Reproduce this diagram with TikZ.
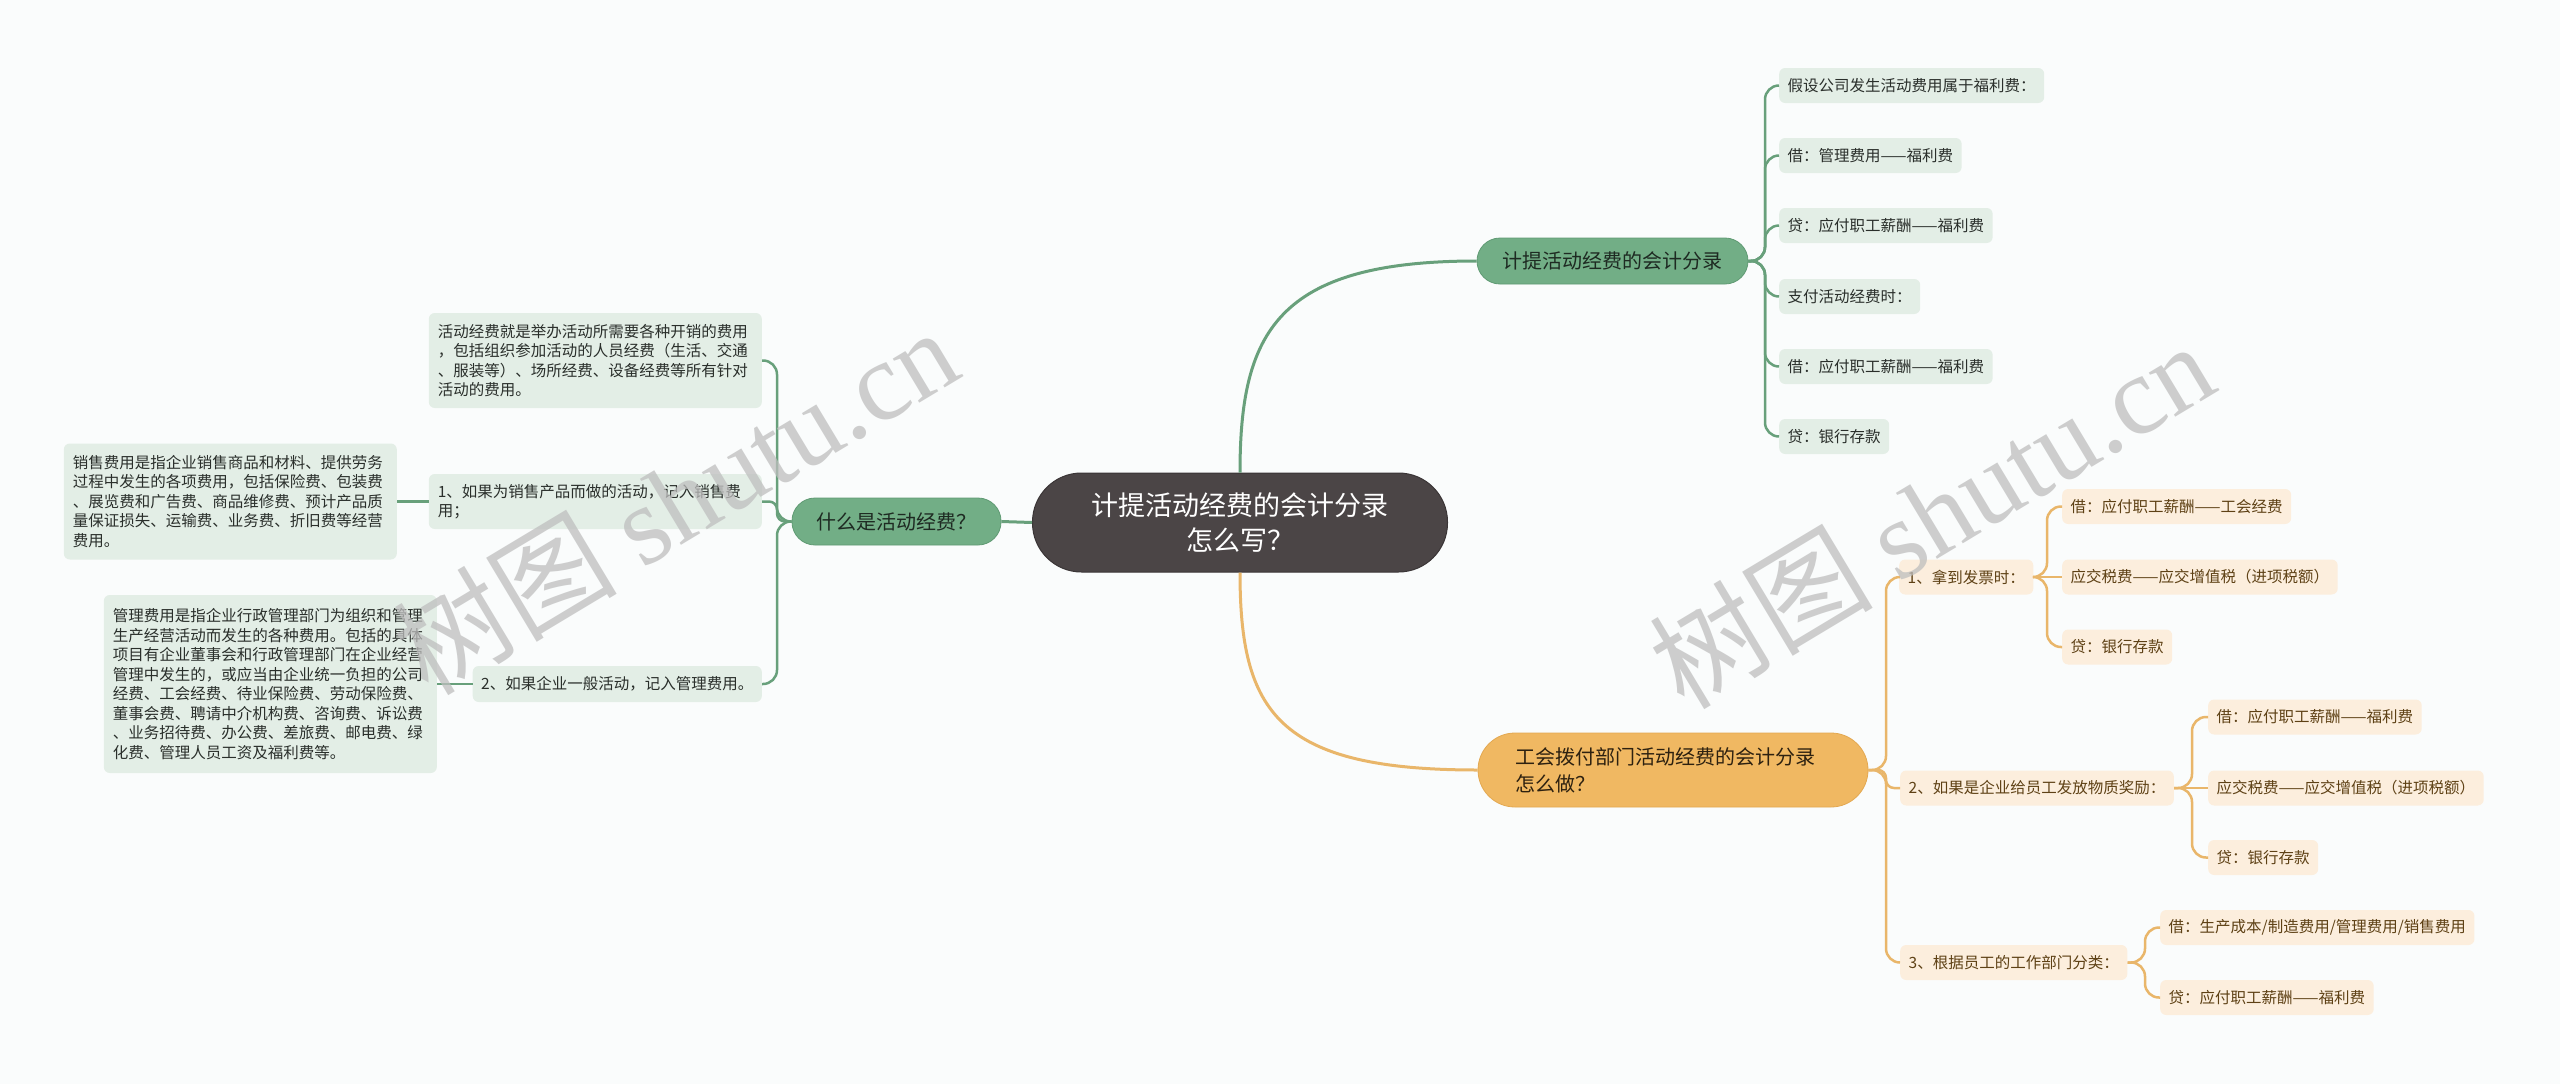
\documentclass[tikz,border=0pt]{standalone}
\usepackage{fontspec}
\setmainfont{Noto Sans CJK SC}
\newfontfamily\wmserif{Liberation Serif}
\definecolor{bgc}{HTML}{FAFCFC}
\definecolor{rootc}{HTML}{4B4546}
\definecolor{rootd}{HTML}{3A3536}
\definecolor{gmainc}{HTML}{72AE86}
\definecolor{gmaind}{HTML}{5F9A73}
\definecolor{gline}{HTML}{68A07B}
\definecolor{gleafc}{HTML}{E3EEE6}
\definecolor{gtext}{HTML}{1E2A22}
\definecolor{omainc}{HTML}{F0B862}
\definecolor{omaind}{HTML}{E3A851}
\definecolor{oline}{HTML}{E9B66A}
\definecolor{oleafc}{HTML}{FCEEDD}
\definecolor{otext}{HTML}{5E4115}
\definecolor{omtext}{HTML}{2D2110}
\definecolor{leaftext}{HTML}{2A2F2B}
\definecolor{wmc}{HTML}{BEBEBE}
\tikzset{
  rootbox/.style={fill=rootc, draw=rootd, line width=1pt, rounded corners=49pt,
    minimum width=415pt, minimum height=99pt, text=white, align=center, inner sep=0pt,
    font=\fontsize{27}{35}\selectfont},
  gmainbox/.style={fill=gmainc, draw=gmaind, line width=0.8pt, rounded corners=23pt,
    text=gtext, inner sep=0pt, font=\fontsize{20}{26}\selectfont},
  omainbox/.style={fill=omainc, draw=omaind, line width=0.8pt, rounded corners=37pt,
    text=omtext, inner sep=0pt, font=\fontsize{20}{27}\selectfont},
  gleaf/.style={fill=gleafc, rounded corners=6pt, text=leaftext, align=left,
    inner xsep=8.5pt, inner ysep=0pt, minimum height=35pt,
    font=\fontsize{15.5}{19.5}\selectfont},
  gpara/.style={gleaf, text width=315pt, inner xsep=9pt},
  oleaf/.style={fill=oleafc, rounded corners=6pt, text=otext, align=left,
    inner xsep=8.5pt, inner ysep=0pt, minimum height=35pt,
    font=\fontsize{15.5}{19.5}\selectfont},
  gconn/.style={draw=gline, line width=2.5pt, rounded corners=14pt},
  oconn/.style={draw=oline, line width=2.5pt, rounded corners=14pt},
  wmark/.style={text=wmc, opacity=0.75, rotate=31, inner sep=0pt,
    font=\fontsize{112}{112}\selectfont}
}
\begin{document}
\begin{tikzpicture}[x=1pt,y=-1pt]
\useasboundingbox (0,0) rectangle (2560,1084);
\fill[bgc] (0,0) rectangle (2560,1084);

% main nodes
\node[rootbox] (root) at (1240,522.5) {计提活动经费的会计分录\\怎么写？};
\node[gmainbox, minimum width=209pt, minimum height=47pt] (what) at (896.5,521.5) {什么是活动经费？};
\node[gmainbox, minimum width=271pt, minimum height=46pt] (jt) at (1612.5,261) {计提活动经费的会计分录};
\node[omainbox, minimum width=390pt, minimum height=74pt, text width=316pt, align=left] (gh) at (1673,770) {工会拨付部门活动经费的会计分录\\怎么做？};

% left branch
\node[gpara, anchor=east, minimum height=95pt] (a) at (762,360.5) {活动经费就是举办活动所需要各种开销的费用\\，包括组织参加活动的人员经费（生活、交通\\、服装等）、场所经费、设备经费等所有针对\\活动的费用。};
\node[gpara, anchor=east, minimum height=55pt] (b) at (762,501.5) {1、如果为销售产品而做的活动，记入销售费\\用；};
\node[gpara, anchor=east, minimum height=116pt] (c) at (397,501.5) {销售费用是指企业销售商品和材料、提供劳务\\过程中发生的各项费用，包括保险费、包装费\\、展览费和广告费、商品维修费、预计产品质\\量保证损失、运输费、业务费、折旧费等经营\\费用。};
\node[gleaf, anchor=east, minimum height=36pt] (d) at (762,684) {2、如果企业一般活动，记入管理费用。};
\node[gpara, anchor=east, minimum height=178pt] (e) at (437,684) {管理费用是指企业行政管理部门为组织和管理\\生产经营活动而发生的各种费用。包括的具体\\项目有企业董事会和行政管理部门在企业经营\\管理中发生的，或应当由企业统一负担的公司\\经费、工会经费、待业保险费、劳动保险费、\\董事会费、聘请中介机构费、咨询费、诉讼费\\、业务招待费、办公费、差旅费、邮电费、绿\\化费、管理人员工资及福利费等。};

% upper right branch
\node[gleaf, anchor=west] (g1) at (1779,85.5) {假设公司发生活动费用属于福利费：};
\node[gleaf, anchor=west] (g2) at (1779,155.5) {借：管理费用——福利费};
\node[gleaf, anchor=west] (g3) at (1779,225.5) {贷：应付职工薪酬——福利费};
\node[gleaf, anchor=west] (g4) at (1779,296.5) {支付活动经费时：};
\node[gleaf, anchor=west] (g5) at (1779,366.5) {借：应付职工薪酬——福利费};
\node[gleaf, anchor=west] (g6) at (1779,436.5) {贷：银行存款};

% lower right branch
\node[oleaf, anchor=west] (o1) at (1899,577) {1、拿到发票时：};
\node[oleaf, anchor=west] (o1a) at (2062,506.5) {借：应付职工薪酬——工会经费};
\node[oleaf, anchor=west] (o1b) at (2062,577) {应交税费——应交增值税（进项税额）};
\node[oleaf, anchor=west] (o1c) at (2062,647) {贷：银行存款};
\node[oleaf, anchor=west] (o2) at (1900,788) {2、如果是企业给员工发放物质奖励：};
\node[oleaf, anchor=west] (o2a) at (2208,717) {借：应付职工薪酬——福利费};
\node[oleaf, anchor=west] (o2b) at (2208,788) {应交税费——应交增值税（进项税额）};
\node[oleaf, anchor=west] (o2c) at (2208,857.5) {贷：银行存款};
\node[oleaf, anchor=west] (o3) at (1900,962.5) {3、根据员工的工作部门分类：};
\node[oleaf, anchor=west] (o3a) at (2160,927.5) {借：生产成本/制造费用/管理费用/销售费用};
\node[oleaf, anchor=west] (o3b) at (2160,997.5) {贷：应付职工薪酬——福利费};

% connectors from root
\draw[draw=gline, line width=3pt] (root.north) .. controls +(0,-140) and +(-200,0) .. (jt.west);
\draw[draw=oline, line width=3pt] (root.south) .. controls +(0,140) and +(-200,0) .. (gh.west);
\draw[draw=gline, line width=3pt] (root.west) -- (what.east);

% left connectors
\draw[gconn] (what.west) -- (777,521.5) |- (a.east);
\draw[gconn, rounded corners=8pt] (what.west) -- (777,521.5) |- (b.east);
\draw[gconn] (what.west) -- (777,521.5) |- (d.east);
\draw[gconn] (b.west) -- (c.east);
\draw[gconn] (d.west) -- (e.east);

% upper right connectors
\foreach \n in {g1,g2,g3,g4,g5,g6}{
  \draw[gconn] (jt.east) -- (1765,261) |- (\n.west);
}

% lower right connectors
\draw[oconn] (gh.east) -- (1886,770) |- (o1.west);
\draw[oconn, rounded corners=8pt] (gh.east) -- (1886,770) |- (o2.west);
\draw[oconn] (gh.east) -- (1886,770) |- (o3.west);
\draw[oconn] (o1.east) -- (2047,577) |- (o1a.west);
\draw[oconn] (o1.east) -- (o1b.west);
\draw[oconn] (o1.east) -- (2047,577) |- (o1c.west);
\draw[oconn] (o2.east) -- (2192,788) |- (o2a.west);
\draw[oconn] (o2.east) -- (o2b.west);
\draw[oconn] (o2.east) -- (2192,788) |- (o2c.west);
\draw[oconn] (o3.east) -- (2145,962.5) |- (o3a.west);
\draw[oconn] (o3.east) -- (2145,962.5) |- (o3b.west);

% watermarks
\node[wmark] (wm1) at (675,500) {树图 {\wmserif shutu.cn}};
\node[wmark] (wm2) at (1931,514) {树图 {\wmserif shutu.cn}};
\end{tikzpicture}
\end{document}
